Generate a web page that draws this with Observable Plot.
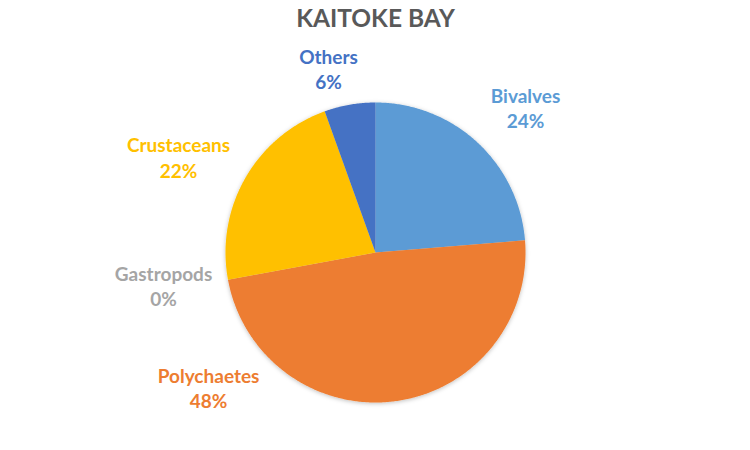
<!DOCTYPE html>
<html>
<head>
<meta charset="utf-8">
<script src="https://cdn.jsdelivr.net/npm/d3@7"></script>
<script src="https://cdn.jsdelivr.net/npm/@observablehq/plot@0.6"></script>
<style>
  html, body { margin: 0; padding: 0; background: #fff; }
  #chart svg { display: block; }
</style>
</head>
<body>
<div id="chart"></div>
<script>
// ---- data ----
const title = "KAITOKE BAY";
const categories = ["Bivalves", "Polychaetes", "Gastropods", "Crustaceans", "Others"];
const values = [23.7, 48.4, 0, 22.4, 5.5];
const colors = ["#5B9BD5", "#ED7D31", "#A5A5A5", "#FFC000", "#4472C4"];

// ---- layout (label anchors, in pie-radius units from the centre) ----
const labelAnchors = [
  [1.0, 0.967],
  [-1.113, -0.897],
  [-1.413, -0.217],
  [-1.313, 0.637],
  [-0.313, 1.227]
];

const total = d3.sum(values);
const pie = d3.pie().sort(null).value(d => d)(values);

// slice outlines in unit coordinates (angle 0 at top, clockwise)
const slicePts = [];
pie.forEach((p, i) => {
  if (p.endAngle - p.startAngle <= 0) return;
  const name = categories[i];
  slicePts.push({name, x: 0, y: 0});
  const n = Math.max(2, Math.ceil((p.endAngle - p.startAngle) / (Math.PI / 360)));
  for (let k = 0; k <= n; k++) {
    const a = p.startAngle + (p.endAngle - p.startAngle) * k / n;
    slicePts.push({name, x: Math.sin(a), y: Math.cos(a)});
  }
});

const labelData = categories.map((name, i) => ({
  name,
  x: labelAnchors[i][0],
  y: labelAnchors[i][1],
  text: name + "\n" + Math.round(values[i] / total * 100) + "%"
}));

const W = 750, H = 450, R = 150, CX = 375, CY = 252;

const chart = Plot.plot({
  width: W,
  height: H,
  margin: 0,
  x: {domain: [-CX / R, (W - CX) / R], range: [0, W], axis: null},
  y: {domain: [-(H - CY) / R, CY / R], range: [H, 0], axis: null},
  color: {domain: categories, range: colors},
  style: {fontFamily: "Lato, 'Open Sans', sans-serif", background: "#fff"},
  marks: [
    Plot.line(slicePts, {
      x: "x", y: "y", z: "name", fill: "name", stroke: "none",
      curve: "linear-closed"
    }),
    Plot.text(labelData, {
      x: "x", y: "y", text: "text", fill: "name",
      fontSize: 19, fontWeight: "bold", lineHeight: 1.32
    }),
    Plot.text([title], {
      frameAnchor: "top", dy: 9, text: d => d,
      fontSize: 24.5, fontWeight: "bold", fill: "#595959"
    })
  ]
});

// subtle drop shadow on the pie slices
const svg = d3.select(chart);
const defs = svg.insert("defs", ":first-child");
const f = defs.append("filter").attr("id", "sh").attr("x", "-10%").attr("y", "-10%").attr("width", "120%").attr("height", "120%");
f.append("feDropShadow").attr("dx", 0).attr("dy", 1).attr("stdDeviation", 2).attr("flood-color", "#000").attr("flood-opacity", 0.25);
svg.select("g[aria-label='line']").attr("filter", "url(#sh)");

document.getElementById("chart").appendChild(chart);
</script>
</body>
</html>
